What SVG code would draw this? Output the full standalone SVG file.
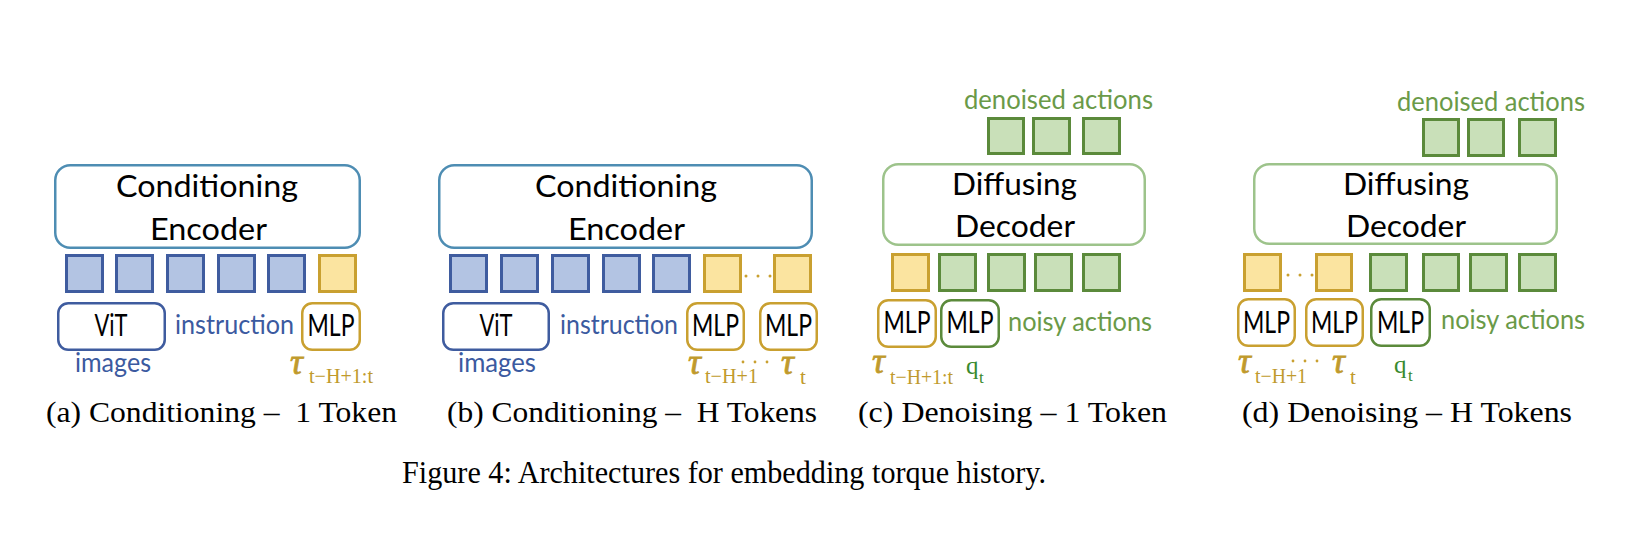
<svg xmlns="http://www.w3.org/2000/svg" width="1640" height="536" viewBox="0 0 1640 536">
<style>
.enc{fill:#fff;stroke:#4e8db3;stroke-width:2.5}
.dec{fill:#fff;stroke:#9dc38b;stroke-width:2.5}
.tb{fill:#b3c4e3;stroke:#3f5c9f;stroke-width:3}
.ty{fill:#fbe4a0;stroke:#c9a030;stroke-width:3}
.tg{fill:#c9e0b9;stroke:#5b8a3b;stroke-width:3}
.bb{fill:#fff;stroke:#3f5c9f;stroke-width:2.5}
.by{fill:#fff;stroke:#c9a030;stroke-width:2.5}
.bg{fill:#fff;stroke:#5b8a3b;stroke-width:2.5}
.big{font-family:Lato,"Liberation Sans",sans-serif;font-size:31px;fill:#000}
.mlp{font-family:Lato,"Liberation Sans",sans-serif;font-size:30px;fill:#000;text-anchor:middle}
.lblB{font-family:Lato,"Liberation Sans",sans-serif;font-size:27px;fill:#3b5aa0}
.lblG{font-family:Lato,"Liberation Sans",sans-serif;font-size:26px;fill:#6a9a48}
.tau{font-family:"Liberation Serif",serif;font-style:italic;font-size:36px;fill:#c09a2c;stroke:#c09a2c;stroke-width:0.8}
.sub{font-family:"Liberation Serif",serif;font-size:21px;fill:#c09a2c}
.q{font-family:"Liberation Serif",serif;font-size:25px;fill:#3a8a2e}
.qs{font-family:"Liberation Serif",serif;font-size:17px;fill:#3a8a2e}
.cap{font-family:"Liberation Serif",serif;font-size:30px;fill:#000}
.dot{fill:#c9a030}
</style>

<g id="connectors"></g>

<!-- Panel (a) -->
<g id="a-encoder">
  <rect class="enc" x="55.25" y="165.25" width="304.5" height="82.5" rx="15"/>
  <text class="big" x="116" y="197" textLength="182" lengthAdjust="spacingAndGlyphs">Conditioning</text>
  <text class="big" x="150" y="240" textLength="117" lengthAdjust="spacingAndGlyphs">Encoder</text>
</g>
<g id="a-tokens">
  <rect class="tb" x="66.5" y="255.5" width="36" height="36"/>
  <rect class="tb" x="116.5" y="255.5" width="36" height="36"/>
  <rect class="tb" x="167.5" y="255.5" width="36" height="36"/>
  <rect class="tb" x="218.5" y="255.5" width="36" height="36"/>
  <rect class="tb" x="268.5" y="255.5" width="36" height="36"/>
  <rect class="ty" x="319.5" y="255.5" width="36" height="36"/>
</g>
<g id="a-vit">
  <rect class="bb" x="58.25" y="303.25" width="106.5" height="46.5" rx="10"/>
  <text class="mlp" x="111" y="336" textLength="33" lengthAdjust="spacingAndGlyphs">ViT</text>
</g>
<g id="a-instruction">
  <text class="lblB" x="175" y="334" textLength="119" lengthAdjust="spacingAndGlyphs">instruction</text>
</g>
<g id="a-mlp">
  <rect class="by" x="302.25" y="303.25" width="57.5" height="46.5" rx="10"/>
  <text class="mlp" x="331" y="336" textLength="47" lengthAdjust="spacingAndGlyphs">MLP</text>
</g>
<g id="a-images"><text class="lblB" x="75" y="372" textLength="76" lengthAdjust="spacingAndGlyphs">images</text></g>
<g id="a-tau">
  <text class="tau" x="290" y="374">τ</text>
  <text class="sub" x="309" y="383" textLength="64" lengthAdjust="spacingAndGlyphs">t−H+1:t</text>
</g>

<!-- Panel (b) -->
<g id="b-encoder">
  <rect class="enc" x="439.25" y="165.25" width="372.5" height="82.5" rx="15"/>
  <text class="big" x="535" y="197" textLength="182" lengthAdjust="spacingAndGlyphs">Conditioning</text>
  <text class="big" x="568" y="240" textLength="117" lengthAdjust="spacingAndGlyphs">Encoder</text>
</g>
<g id="b-tokens">
  <rect class="tb" x="450.5" y="255.5" width="36" height="36"/>
  <rect class="tb" x="501.5" y="255.5" width="36" height="36"/>
  <rect class="tb" x="552.5" y="255.5" width="36" height="36"/>
  <rect class="tb" x="603.5" y="255.5" width="36" height="36"/>
  <rect class="tb" x="653.5" y="255.5" width="36" height="36"/>
  <rect class="ty" x="704.5" y="255.5" width="36" height="36"/>
  <rect class="ty" x="774.5" y="255.5" width="36" height="36"/>
  <circle class="dot" cx="746" cy="276" r="1.5"/>
  <circle class="dot" cx="758" cy="276" r="1.5"/>
  <circle class="dot" cx="770" cy="276" r="1.5"/>
</g>
<g id="b-vit">
  <rect class="bb" x="443.25" y="303.25" width="105.5" height="46.5" rx="10"/>
  <text class="mlp" x="496" y="336" textLength="33" lengthAdjust="spacingAndGlyphs">ViT</text>
</g>
<g id="b-instruction">
  <text class="lblB" x="560" y="334" textLength="118" lengthAdjust="spacingAndGlyphs">instruction</text>
</g>
<g id="b-mlp1">
  <rect class="by" x="687.25" y="303.25" width="56.5" height="46.5" rx="10"/>
  <text class="mlp" x="715.5" y="336" textLength="47" lengthAdjust="spacingAndGlyphs">MLP</text>
</g>
<g id="b-mlp2">
  <rect class="by" x="760.25" y="303.25" width="56.5" height="46.5" rx="10"/>
  <text class="mlp" x="788.5" y="336" textLength="47" lengthAdjust="spacingAndGlyphs">MLP</text>
</g>
<g id="b-images"><text class="lblB" x="458" y="372" textLength="78" lengthAdjust="spacingAndGlyphs">images</text></g>
<g id="b-tau">
  <text class="tau" x="688" y="374">τ</text>
  <text class="sub" x="705" y="383" textLength="53" lengthAdjust="spacingAndGlyphs">t−H+1</text>
  <circle class="dot" cx="743" cy="362" r="1.4"/>
  <circle class="dot" cx="755" cy="362" r="1.4"/>
  <circle class="dot" cx="767" cy="362" r="1.4"/>
  <text class="tau" x="781" y="374">τ</text>
  <text class="sub" x="800" y="384">t</text>
</g>

<!-- Panel (c) -->
<g id="c-denoised">
  <text class="lblG" x="964" y="109" textLength="189" lengthAdjust="spacingAndGlyphs">denoised actions</text>
  <rect class="tg" x="988.5" y="118.5" width="35" height="35"/>
  <rect class="tg" x="1033.5" y="118.5" width="36" height="35"/>
  <rect class="tg" x="1083.5" y="118.5" width="36" height="35"/>
</g>
<g id="c-decoder">
  <rect class="dec" x="883.25" y="164.25" width="261.5" height="80.5" rx="15"/>
  <text class="big" x="952" y="195" textLength="125" lengthAdjust="spacingAndGlyphs">Diffusing</text>
  <text class="big" x="955" y="237" textLength="120" lengthAdjust="spacingAndGlyphs">Decoder</text>
</g>
<g id="c-tokens">
  <rect class="ty" x="892.5" y="254.5" width="36" height="36"/>
  <rect class="tg" x="939.5" y="254.5" width="36" height="36"/>
  <rect class="tg" x="988.5" y="254.5" width="36" height="36"/>
  <rect class="tg" x="1035.5" y="254.5" width="36" height="36"/>
  <rect class="tg" x="1083.5" y="254.5" width="36" height="36"/>
</g>
<g id="c-mlp-tau">
  <rect class="by" x="878.25" y="300.25" width="57.5" height="46.5" rx="10"/>
  <text class="mlp" x="907" y="333" textLength="47" lengthAdjust="spacingAndGlyphs">MLP</text>
</g>
<g id="c-mlp-q">
  <rect class="bg" x="941.25" y="300.25" width="57.5" height="46.5" rx="10"/>
  <text class="mlp" x="970" y="333" textLength="47" lengthAdjust="spacingAndGlyphs">MLP</text>
</g>
<g id="c-noisy"><text class="lblG" x="1008" y="331" textLength="144" lengthAdjust="spacingAndGlyphs">noisy actions</text></g>
<g id="c-tau">
  <text class="tau" x="872" y="373">τ</text>
  <text class="sub" x="890" y="384" textLength="63" lengthAdjust="spacingAndGlyphs">t−H+1:t</text>
</g>
<g id="c-q">
  <text class="q" x="966" y="374">q</text>
  <text class="qs" x="979" y="383">t</text>
</g>

<!-- Panel (d) -->
<g id="d-denoised">
  <text class="lblG" x="1397" y="111" textLength="188" lengthAdjust="spacingAndGlyphs">denoised actions</text>
  <rect class="tg" x="1423.5" y="119.5" width="35" height="36"/>
  <rect class="tg" x="1468.5" y="119.5" width="35" height="36"/>
  <rect class="tg" x="1519.5" y="119.5" width="36" height="36"/>
</g>
<g id="d-decoder">
  <rect class="dec" x="1254.25" y="164.25" width="302.5" height="79.5" rx="15"/>
  <text class="big" x="1343" y="195" textLength="126" lengthAdjust="spacingAndGlyphs">Diffusing</text>
  <text class="big" x="1346" y="237" textLength="120" lengthAdjust="spacingAndGlyphs">Decoder</text>
</g>
<g id="d-tokens">
  <rect class="ty" x="1244.5" y="254.5" width="36" height="36"/>
  <rect class="ty" x="1316.5" y="254.5" width="35" height="36"/>
  <circle class="dot" cx="1288" cy="275" r="1.5"/>
  <circle class="dot" cx="1300" cy="275" r="1.5"/>
  <circle class="dot" cx="1312" cy="275" r="1.5"/>
  <rect class="tg" x="1370.5" y="254.5" width="36" height="36"/>
  <rect class="tg" x="1423.5" y="254.5" width="35" height="36"/>
  <rect class="tg" x="1470.5" y="254.5" width="36" height="36"/>
  <rect class="tg" x="1519.5" y="254.5" width="36" height="36"/>
</g>
<g id="d-mlp1">
  <rect class="by" x="1238.25" y="299.25" width="56.5" height="46.5" rx="10"/>
  <text class="mlp" x="1266.5" y="333" textLength="47" lengthAdjust="spacingAndGlyphs">MLP</text>
</g>
<g id="d-mlp2">
  <rect class="by" x="1306.25" y="299.25" width="56.5" height="46.5" rx="10"/>
  <text class="mlp" x="1334.5" y="333" textLength="47" lengthAdjust="spacingAndGlyphs">MLP</text>
</g>
<g id="d-mlp-q">
  <rect class="bg" x="1371.25" y="299.25" width="58.5" height="46.5" rx="10"/>
  <text class="mlp" x="1400.5" y="333" textLength="47" lengthAdjust="spacingAndGlyphs">MLP</text>
</g>
<g id="d-noisy"><text class="lblG" x="1441" y="329" textLength="144" lengthAdjust="spacingAndGlyphs">noisy actions</text></g>
<g id="d-tau">
  <text class="tau" x="1238" y="373">τ</text>
  <text class="sub" x="1255" y="383" textLength="52" lengthAdjust="spacingAndGlyphs">t−H+1</text>
  <circle class="dot" cx="1293" cy="361" r="1.4"/>
  <circle class="dot" cx="1305" cy="361" r="1.4"/>
  <circle class="dot" cx="1317" cy="361" r="1.4"/>
  <text class="tau" x="1332" y="373">τ</text>
  <text class="sub" x="1350" y="384">t</text>
</g>
<g id="d-q">
  <text class="q" x="1394" y="373">q</text>
  <text class="qs" x="1408" y="381">t</text>
</g>

<!-- Captions -->
<g id="captions">
  <text class="cap" x="46" y="422" xml:space="preserve" textLength="351" lengthAdjust="spacingAndGlyphs">(a) Conditioning –  1 Token</text>
  <text class="cap" x="447" y="422" xml:space="preserve" textLength="370" lengthAdjust="spacingAndGlyphs">(b) Conditioning –  H Tokens</text>
  <text class="cap" x="858" y="422" textLength="309" lengthAdjust="spacingAndGlyphs">(c) Denoising – 1 Token</text>
  <text class="cap" x="1242" y="422" textLength="330" lengthAdjust="spacingAndGlyphs">(d) Denoising – H Tokens</text>
  <text class="cap" x="402" y="483" style="font-size:32px" textLength="644" lengthAdjust="spacingAndGlyphs">Figure 4: Architectures for embedding torque history.</text>
</g>
</svg>
